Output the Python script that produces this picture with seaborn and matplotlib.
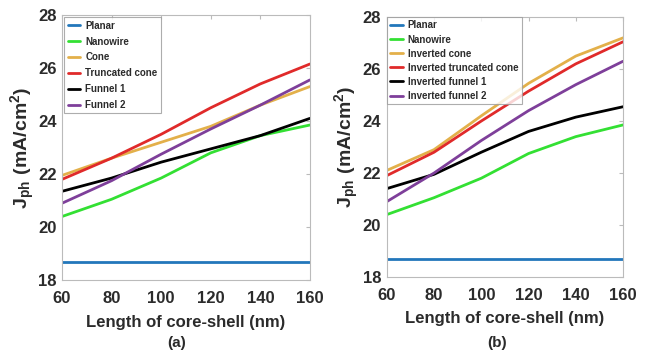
import numpy as np
import pandas as pd
import matplotlib
matplotlib.use("Agg")
import matplotlib.pyplot as plt
from matplotlib import font_manager
import seaborn as sns

length = [60, 80, 100, 120, 140, 160]

# panel (a)
names_a = ["Planar", "Nanowire", "Cone", "Truncated cone", "Funnel 1", "Funnel 2"]
planar_a = [18.7, 18.7, 18.7, 18.7, 18.7, 18.7]
nanowire_a = [20.4, 21.05, 21.85, 22.8, 23.45, 23.85]
cone_a = [21.95, 22.6, 23.2, 23.8, 24.6, 25.3]
trunc_a = [21.8, 22.6, 23.5, 24.5, 25.4, 26.15]
funnel1_a = [21.35, 21.85, 22.45, 22.95, 23.45, 24.1]
funnel2_a = [20.9, 21.75, 22.75, 23.7, 24.6, 25.55]

# panel (b)
names_b = ["Planar", "Nanowire", "Inverted cone", "Inverted truncated cone",
           "Inverted funnel 1", "Inverted funnel 2"]
planar_b = [18.7, 18.7, 18.7, 18.7, 18.7, 18.7]
nanowire_b = [20.4, 21.05, 21.8, 22.75, 23.4, 23.85]
cone_b = [22.1, 22.9, 24.2, 25.45, 26.5, 27.2]
trunc_b = [21.9, 22.8, 24.0, 25.15, 26.2, 27.05]
funnel1_b = [21.4, 21.95, 22.8, 23.6, 24.15, 24.55]
funnel2_b = [20.9, 22.0, 23.25, 24.4, 25.4, 26.3]

colors = ["#2277bb", "#33e033", "#e3b04a", "#e02a2a", "#000000", "#7e3f9a"]
txt = "#2b2b2b"

sns.set_style("white")
installed = {f.name for f in font_manager.fontManager.ttflist}
if "Liberation Sans Narrow" in installed:
    fam = "Liberation Sans Narrow"
    fs_tick, fs_lab, fs_leg = 13, 14, 8
else:
    fam = "Liberation Sans"
    fs_tick, fs_lab, fs_leg = 12, 12, 7
plt.rcParams["font.family"] = [fam, "DejaVu Sans"]
plt.rcParams["font.weight"] = "bold"
plt.rcParams["mathtext.fontset"] = "custom"
plt.rcParams["mathtext.bf"] = fam + ":bold"
plt.rcParams["mathtext.rm"] = fam + ":bold"
plt.rcParams["text.color"] = txt
plt.rcParams["axes.labelcolor"] = txt
plt.rcParams["xtick.labelcolor"] = txt
plt.rcParams["ytick.labelcolor"] = txt


def make_df(names, series):
    rows = []
    for n, s in zip(names, series):
        for x, v in zip(length, s):
            rows.append({"L": x, "J": v, "name": n})
    return pd.DataFrame(rows)


df_a = make_df(names_a, [planar_a, nanowire_a, cone_a, trunc_a, funnel1_a, funnel2_a])
df_b = make_df(names_b, [planar_b, nanowire_b, cone_b, trunc_b, funnel1_b, funnel2_b])

fig = plt.figure(figsize=(6.49, 3.56), dpi=100)
ax1 = fig.add_axes([0.0955, 0.213, 0.382, 0.745])
ax2 = fig.add_axes([0.596, 0.222, 0.364, 0.730])

panels = [(ax1, df_a, names_a, "(a)", 177, 0.25, 0.6),
          (ax2, df_b, names_b, "(b)", 497, 0.0, 0.42)]
for ax, df, names, lab, labx, bpad, lsp in panels:
    sns.lineplot(data=df, x="L", y="J", hue="name", hue_order=names,
                 palette=colors, linewidth=2, ax=ax)
    ax.set_xlim(60, 160)
    ax.set_ylim(18, 28)
    ax.set_xticks([60, 80, 100, 120, 140, 160])
    ax.set_yticks([18, 20, 22, 24, 26, 28])
    ax.tick_params(direction="in", length=3, labelsize=fs_tick, color="#bbbbbb",
                   top=True, right=True)
    ax.tick_params(axis="x", pad=8)
    ax.tick_params(axis="y", pad=4)
    for lbl in ax.get_xticklabels() + ax.get_yticklabels():
        lbl.set_fontweight("bold")
    for sp in ax.spines.values():
        sp.set_color("#bbbbbb")
        sp.set_linewidth(0.8)
    ax.set_xlabel("Length of core-shell (nm)", fontsize=fs_lab, fontweight="bold", labelpad=6)
    ax.set_ylabel(r"$\mathbf{J_{ph}\ (mA/cm^2)}$", fontsize=fs_lab + 2, labelpad=1)
    fig.text(labx / 649, 1 - 343 / 356, lab, ha="center", va="center",
             fontsize=fs_lab - 1, fontweight="bold")
    leg = ax.legend(loc="upper left", fontsize=fs_leg, frameon=True, fancybox=False,
                    borderaxespad=bpad, handlelength=1.3, handletextpad=0.5,
                    labelspacing=lsp, borderpad=0.35)
    leg.get_frame().set_edgecolor("#999999")
    leg.get_frame().set_linewidth(0.8)
    for t in leg.get_texts():
        t.set_fontweight("bold")

fig.savefig("out.png", dpi=100)
